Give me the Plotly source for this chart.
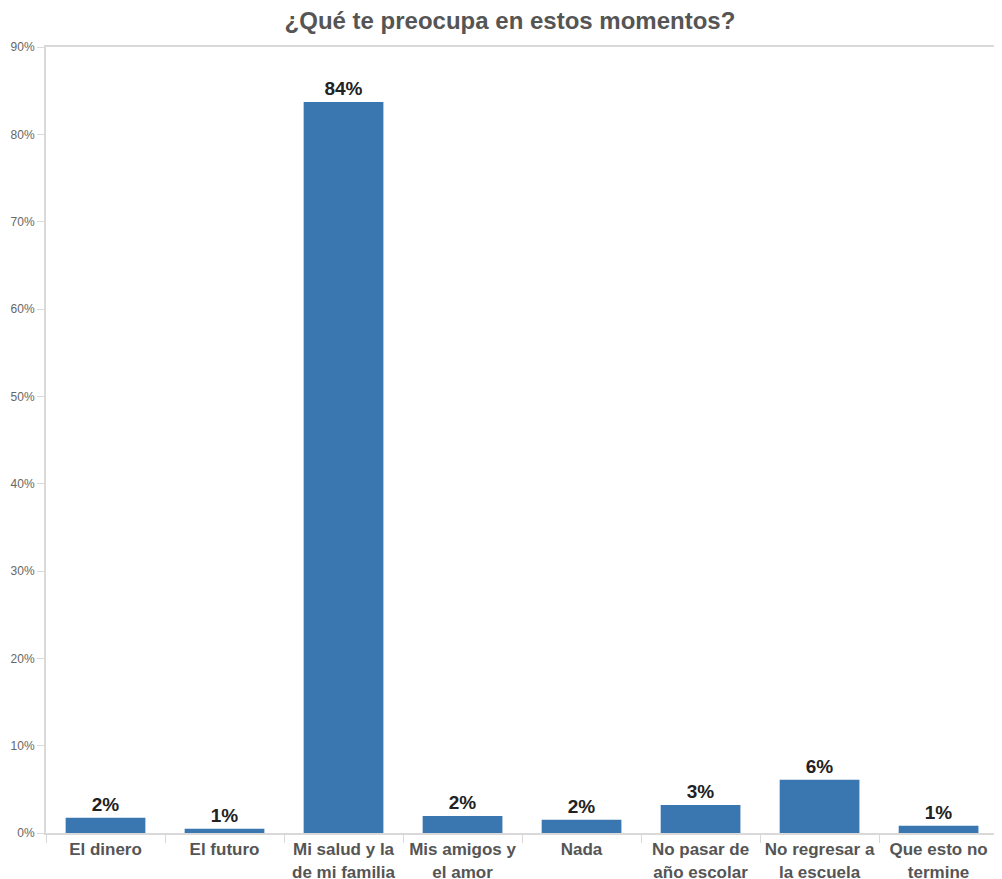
import plotly.graph_objects as go

categories = [
    "El dinero", "El futuro", "Mi salud y la<br>de mi familia", "Mis amigos y<br>el amor",
    "Nada", "No pasar de<br>año escolar", "No regresar a<br>la escuela", "Que esto no<br>termine",
]
values = [1.76, 0.5, 83.7, 1.95, 1.53, 3.2, 6.1, 0.84]
value_labels = ["2%", "1%", "84%", "2%", "2%", "3%", "6%", "1%"]

FONT = "Liberation Sans, Arial, sans-serif"
AXIS_GREY = "#d9d9d9"

fig = go.Figure(go.Bar(
    x=categories,
    y=values,
    text=value_labels,
    textposition="outside",
    textfont=dict(family=FONT, size=19, color="#222222", weight="bold"),
    marker=dict(color="#3a76b0", line_width=0),
    width=0.67,
    cliponaxis=False,
    hoverinfo="x+y",
))

# page body has an 8px margin, so the figure is sized to fit the window
fig.update_layout(
    width=994,
    height=871,
    margin=dict(l=38, r=0, t=39, b=46, autoexpand=False),
    plot_bgcolor="white",
    paper_bgcolor="white",
    showlegend=False,
    title=dict(
        text="¿Qué te preocupa en estos momentos?",
        x=0.505, xanchor="center", y=0.986, yanchor="middle",
        font=dict(family=FONT, size=24, color="#555555", weight="bold"),
    ),
)

fig.update_xaxes(
    range=[-0.5, 7.533],
    automargin=False,
    tickangle=0,
    showline=True, linecolor=AXIS_GREY, linewidth=2, mirror=True,
    ticks="outside", tickson="boundaries", ticklen=8, tickcolor=AXIS_GREY, tickwidth=1,
    showgrid=False,
    tickfont=dict(family=FONT, size=17, color="#555555", weight="bold"),
)

fig.update_yaxes(
    range=[0, 90],
    automargin=False,
    dtick=10,
    ticksuffix="%",
    showline=True, linecolor=AXIS_GREY, linewidth=2,
    ticks="outside", ticklen=7, tickcolor=AXIS_GREY, tickwidth=1,
    showgrid=False, zeroline=False,
    tickfont=dict(family=FONT, size=12, color="#666666"),
)

fig.write_html("out.html")
